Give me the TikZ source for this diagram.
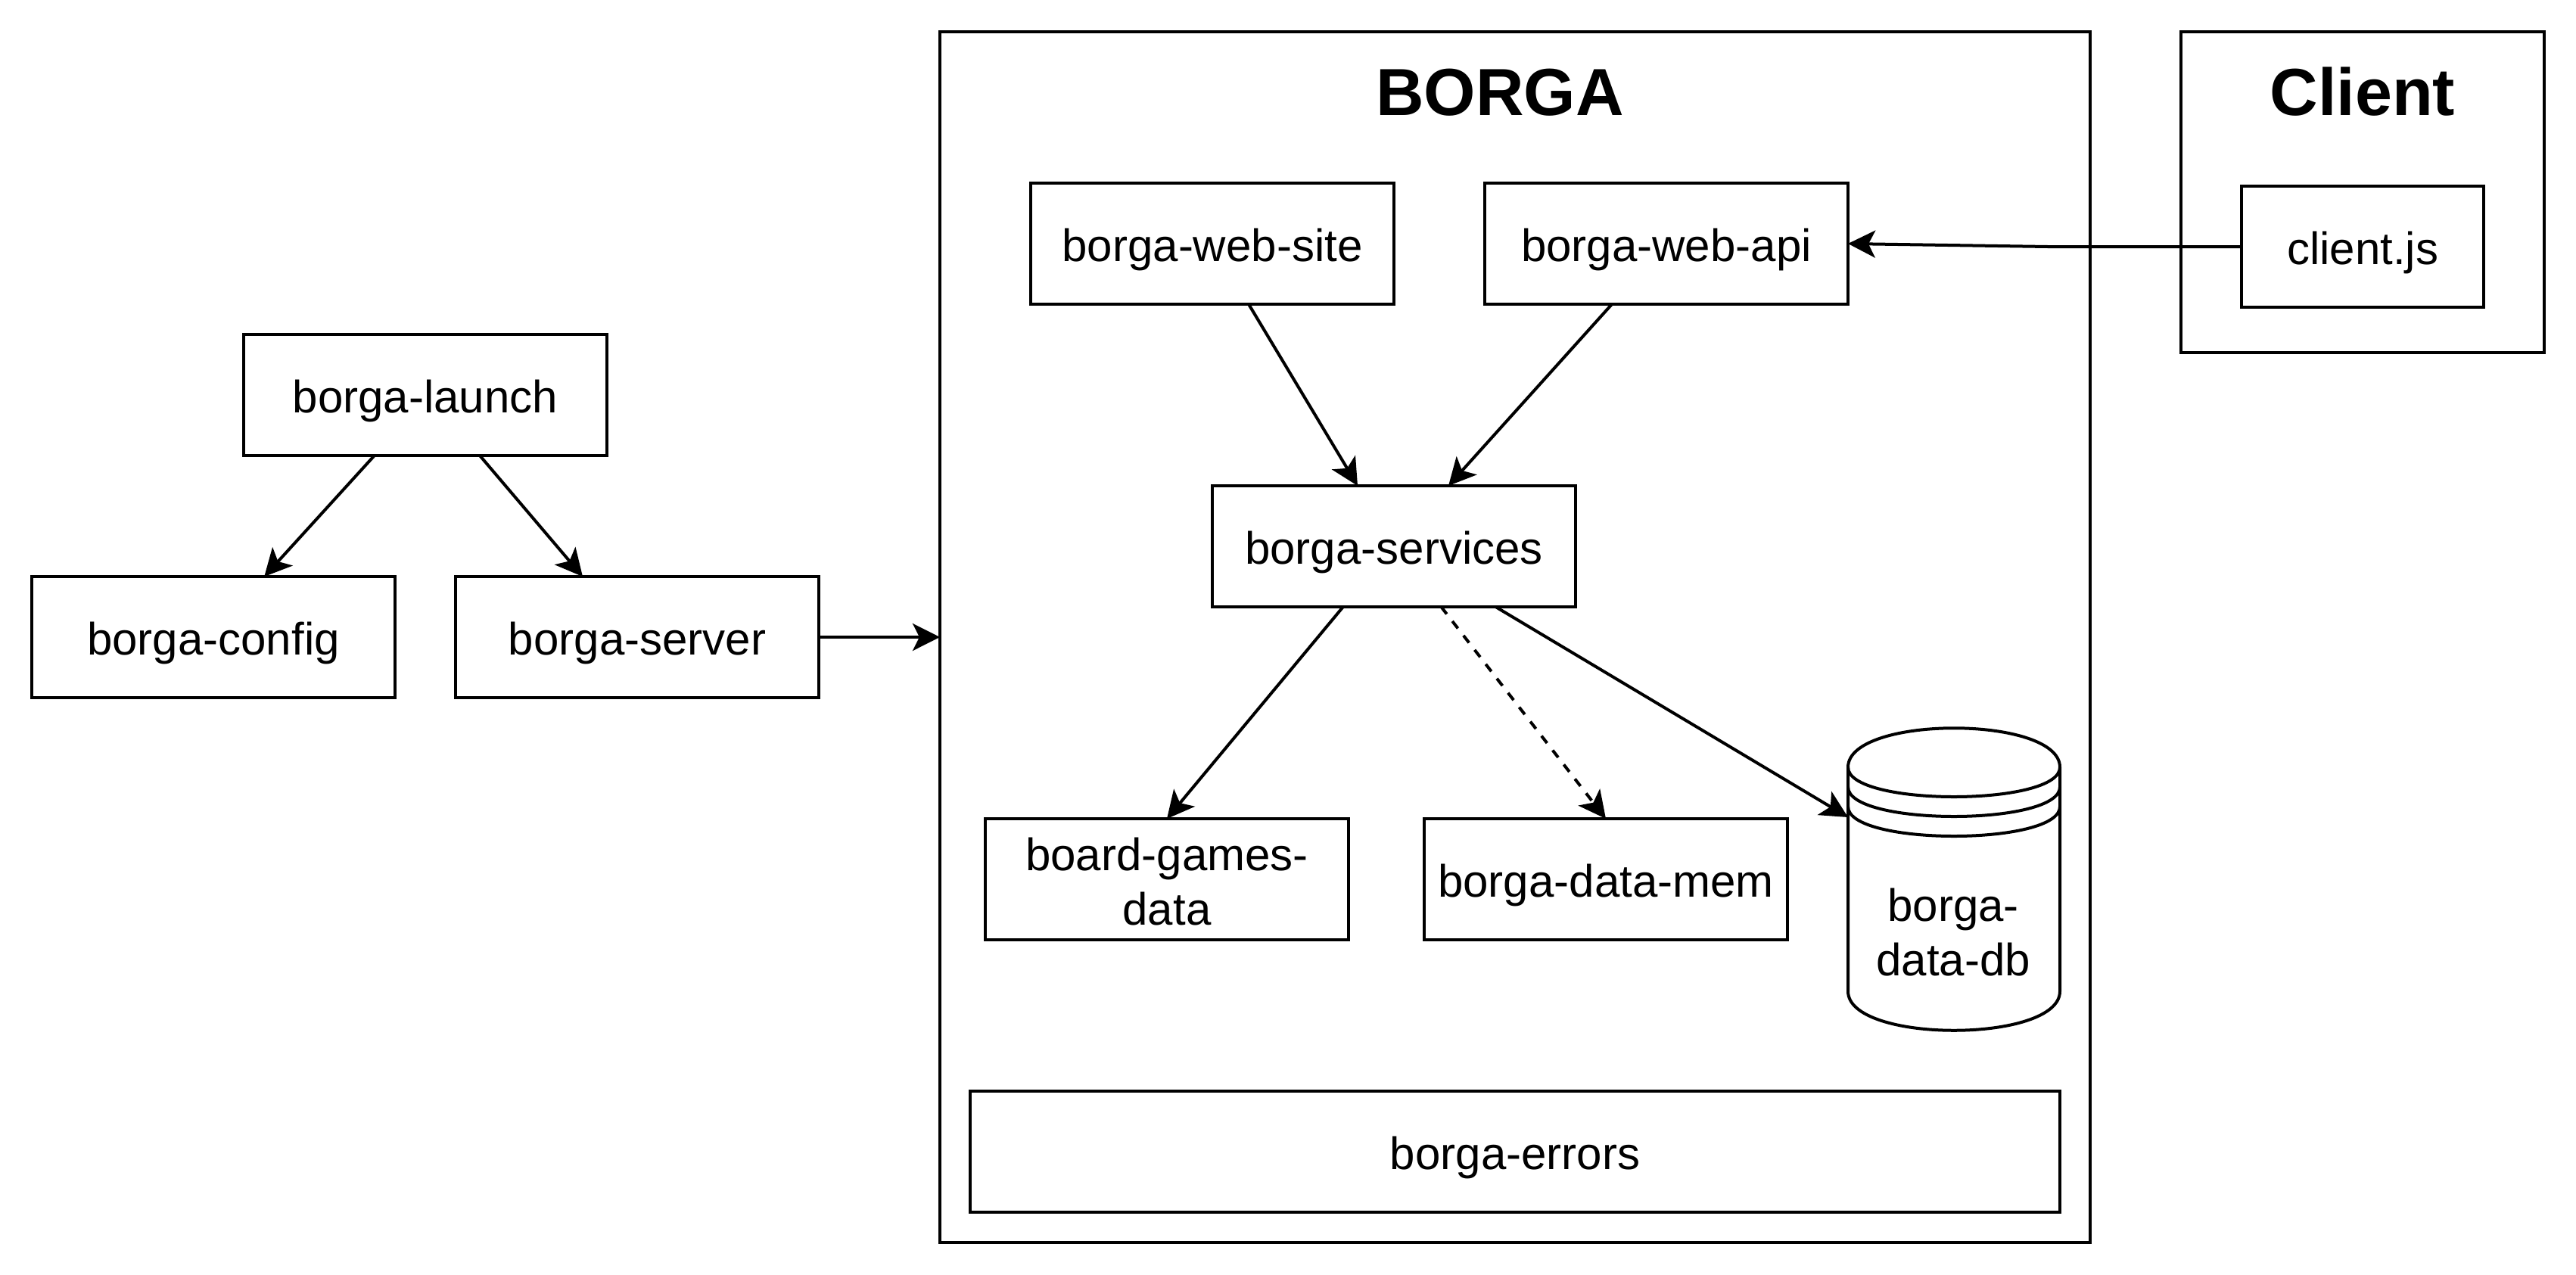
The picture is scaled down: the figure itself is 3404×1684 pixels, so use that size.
\documentclass[tikz,border=0pt]{standalone}
\usepackage{fontspec}
\setmainfont{Liberation Sans}
\usetikzlibrary{arrows.meta,calc}
\tikzset{
  base/.style={line width=4pt,line join=miter},
  block/.style={base,draw=black,fill=white,rectangle,inner sep=0pt,outer sep=0pt,align=center,minimum width=480pt,minimum height=160pt,font=\fontsize{60pt}{72pt}\selectfont,text height=58pt,text depth=12pt},
  frame/.style={base,draw=black,rectangle,inner sep=0pt,outer sep=0pt},
  title/.style={inner sep=0pt,outer sep=0pt,anchor=base,font=\fontsize{88pt}{106pt}\selectfont\bfseries},
  label/.style={inner sep=0pt,outer sep=0pt,align=center,font=\fontsize{60pt}{72pt}\selectfont},
  conn/.style={base,draw=black,-{Stealth[length=36pt,width=36pt,inset=9pt]}},
  dashconn/.style={conn,dash pattern=on 12pt off 12pt},
}
\begin{document}
\begin{tikzpicture}[x=1pt,y=-1pt]
\useasboundingbox (0,0) rectangle (3404,1684);
% containers
\node[frame,minimum width=1520pt,minimum height=1600pt] (borga) at (2002,842) {};
\node[frame,minimum width=480pt,minimum height=424pt] (client) at (3122,254) {};
\node[title] (borgat) at (1982,152) {BORGA};
\node[title] (clientt) at (3122,152) {Client};
% boxes
\node[block] (launch) at (562,522) {borga-launch};
\node[block] (config) at (282,842) {borga-config};
\node[block] (server) at (842,842) {borga-server};
\node[block] (site) at (1602,322) {borga-web-site};
\node[block] (api) at (2202,322) {borga-web-api};
\node[block] (services) at (1842,722) {borga-services};
\node[block] (games) at (1542,1162) {};
\node[label] (gamest) at (1542,1165) {board-games-\\data};
\node[block] (mem) at (2122,1162) {borga-data-mem};
\node[block,minimum width=1440pt] (errors) at (2002,1522) {borga-errors};
\node[block,minimum width=320pt] (js) at (3122,326) {client.js};
% cylinder
\node[inner sep=0pt,outer sep=0pt,minimum width=280pt,minimum height=400pt] (db) at (2582,1162) {};
\draw[base,fill=white,line join=round]
  ($(db.north west)+(0,52)$) .. controls ($(db.north west)+(0,-17)$) and ($(db.north east)+(0,-17)$) .. ($(db.north east)+(0,52)$)
  -- ($(db.south east)+(0,-52)$) .. controls ($(db.south east)+(0,17)$) and ($(db.south west)+(0,17)$) .. ($(db.south west)+(0,-52)$) -- cycle;
\draw[base]
  ($(db.north west)+(0,52)$) .. controls ($(db.north west)+(0,104)$) and ($(db.north east)+(0,104)$) .. ($(db.north east)+(0,52)$);
\draw[base]
  ($(db.north west)+(0,78)$) .. controls ($(db.north west)+(0,130)$) and ($(db.north east)+(0,130)$) .. ($(db.north east)+(0,78)$);
\draw[base]
  ($(db.north west)+(0,104)$) .. controls ($(db.north west)+(0,156)$) and ($(db.north east)+(0,156)$) .. ($(db.north east)+(0,104)$);
\node[label] (dbt) at (2581,1232) {borga-\\data-db};
% connectors
\coordinate (dbin) at ($(db.north west)+(0,118)$);
\coordinate (bend) at (2706,326);
\draw[conn] ($(launch.south west)!0.36!(launch.south east)$) -- ($(config.north west)!0.64!(config.north east)$);
\draw[conn] ($(launch.south west)!0.65!(launch.south east)$) -- ($(server.north west)!0.35!(server.north east)$);
\draw[conn] (server.east) -- (borga.west);
\draw[conn] ($(site.south west)!0.6!(site.south east)$) -- ($(services.north west)!0.4!(services.north east)$);
\draw[conn] ($(api.south west)!0.35!(api.south east)$) -- ($(services.north west)!0.65!(services.north east)$);
\draw[conn] ($(services.south west)!0.36!(services.south east)$) -- (games.north);
\draw[dashconn] ($(services.south west)!0.63!(services.south east)$) -- (mem.north);
\draw[conn] ($(services.south west)!0.78!(services.south east)$) -- (dbin);
\draw[conn] (js.west) -- (bend) -- (api.east);
\end{tikzpicture}
\end{document}
